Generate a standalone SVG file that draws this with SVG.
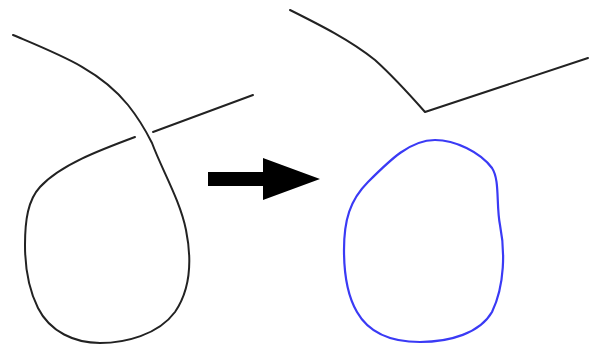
<svg xmlns="http://www.w3.org/2000/svg" width="590" height="349" viewBox="0 0 590 349">
<style>
.ink{fill:none;stroke:#222;stroke-width:2;stroke-linecap:round;stroke-linejoin:round}
.blue{fill:none;stroke:#3a3af5;stroke-width:2.2;stroke-linecap:round;stroke-linejoin:round}
</style>
<rect width="590" height="349" fill="#fff"/>
<g id="before">
<path class="ink" d="M13,35 C60,55 100,70 128,105 C140,120 147,133 152,143 C162,170 180,200 186,230 C192,260 190,290 175,312 C158,335 125,343 100,343 C75,343 50,332 38,308 C28,288 25,265 25,245 C25,220 28,200 40,187 C60,165 100,150 135,137"/>
<path class="ink" d="M153,132 L253,95"/>
</g>
<g id="arrow">
<polygon fill="#000" points="208,172 263,172 263,158 320,179 263,200 263,186 208,186"/>
</g>
<g id="after">
<path class="ink" d="M290,10 C320,25 350,40 375,60 C395,78 410,95 425,112 L588,58"/>
<path class="blue" d="M435,140 C455,140 480,152 492,168 C500,180 496,205 500,225 C505,250 505,285 492,312 C480,333 450,342 420,342 C395,342 370,335 357,312 C347,295 344,270 344,250 C344,220 350,200 368,182 C390,160 410,140 435,140 Z"/>
</g>
</svg>
